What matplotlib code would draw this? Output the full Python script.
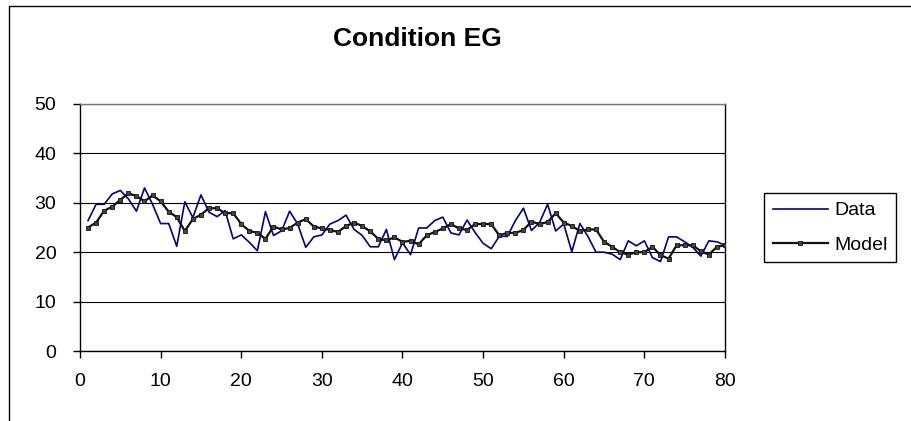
import matplotlib
matplotlib.use("Agg")
import matplotlib.pyplot as plt
from matplotlib.patches import Rectangle

plt.rcParams['font.family'] = ['Liberation Sans', 'DejaVu Sans']

# trial number 1..80
trials = list(range(1, 81))

data = [26.4, 29.7, 29.7, 31.8, 32.5, 30.8, 28.3, 33.0, 29.7, 25.8,
        25.8, 21.2, 30.2, 27.0, 31.6, 28.1, 27.2, 28.4, 22.7, 23.5,
        22.0, 20.3, 28.2, 23.4, 24.3, 28.3, 25.7, 21.0, 23.1, 23.5,
        25.7, 26.4, 27.5, 24.6, 23.4, 21.1, 21.1, 24.6, 18.5, 21.9,
        19.5, 24.9, 24.9, 26.4, 27.1, 23.9, 23.5, 26.5, 24.0, 21.8,
        20.7, 23.2, 23.2, 26.4, 28.9, 24.4, 26.0, 29.7, 24.3, 25.7,
        20.1, 25.8, 23.2, 20.0, 20.0, 19.6, 18.5, 22.3, 21.3, 22.3,
        18.9, 18.1, 23.1, 23.1, 22.1, 21.0, 19.2, 22.3, 22.1, 21.4]

model = [25.0, 26.0, 28.4, 29.2, 30.6, 31.9, 31.4, 30.3, 31.5, 30.3,
         28.2, 27.1, 24.3, 26.7, 27.6, 28.9, 28.9, 27.9, 27.9, 25.7,
         24.3, 23.9, 22.7, 25.2, 24.6, 24.9, 26.0, 26.7, 25.2, 24.8,
         24.5, 24.1, 25.3, 26.0, 25.3, 24.2, 22.7, 22.4, 23.0, 22.1,
         22.3, 21.6, 23.4, 24.1, 24.8, 25.7, 24.8, 24.5, 25.7, 25.7,
         25.7, 23.4, 23.9, 23.9, 24.5, 26.2, 25.7, 26.1, 27.9, 26.0,
         25.3, 24.3, 24.6, 24.6, 22.1, 21.1, 20.0, 19.5, 20.0, 20.0,
         21.1, 19.4, 18.7, 21.4, 21.4, 21.4, 20.2, 19.5, 21.1, 21.4]

xticks = list(range(0, 81, 10))
yticks = list(range(0, 51, 10))

fig = plt.figure(figsize=(9.12, 4.21), dpi=100)
ax = fig.add_axes([80/912, 1-351/421, 645/912, 247/421])

ax.plot(trials, data, color='#000080', lw=1.2, label='Data', zorder=3)
ax.plot(trials, model, color='#111111', lw=1.6, marker='s', markersize=3.3,
        markerfacecolor='#444444', markeredgecolor='#111111', markeredgewidth=0.6,
        label='Model', zorder=4)

ax.set_xlim(0, 80)
ax.set_ylim(0, 50)
ax.set_xticks(xticks)
ax.set_yticks(yticks)
ax.grid(axis='y', color='black', lw=0.8)
ax.set_axisbelow(True)
for s in ax.spines.values():
    s.set_color('black')
    s.set_linewidth(1.0)
ax.spines['top'].set_color('#777777')
ax.tick_params(axis='both', direction='out', length=5, width=1, labelsize=14)
ax.tick_params(axis='y', pad=12)
ax.tick_params(axis='x', pad=11)

fig.text(417/912, 1-38.5/421, 'Condition EG', ha='center', va='center',
         fontsize=19, fontweight='bold')

leg = ax.legend(loc='upper left', bbox_to_anchor=(764/912, 1-193/421),
                bbox_transform=fig.transFigure, fontsize=14, frameon=True,
                fancybox=False, edgecolor='black', framealpha=1,
                handlelength=2.85, handletextpad=0.3, labelspacing=0.85,
                borderpad=0.45, borderaxespad=0)
leg.get_frame().set_linewidth(1.0)

# outer chart border
fig.add_artist(Rectangle((9/912, -0.1), 1.2, 1.1 - 6/421, transform=fig.transFigure,
                         fill=False, edgecolor='black', lw=1.0))

plt.savefig("out.png", dpi=100)
